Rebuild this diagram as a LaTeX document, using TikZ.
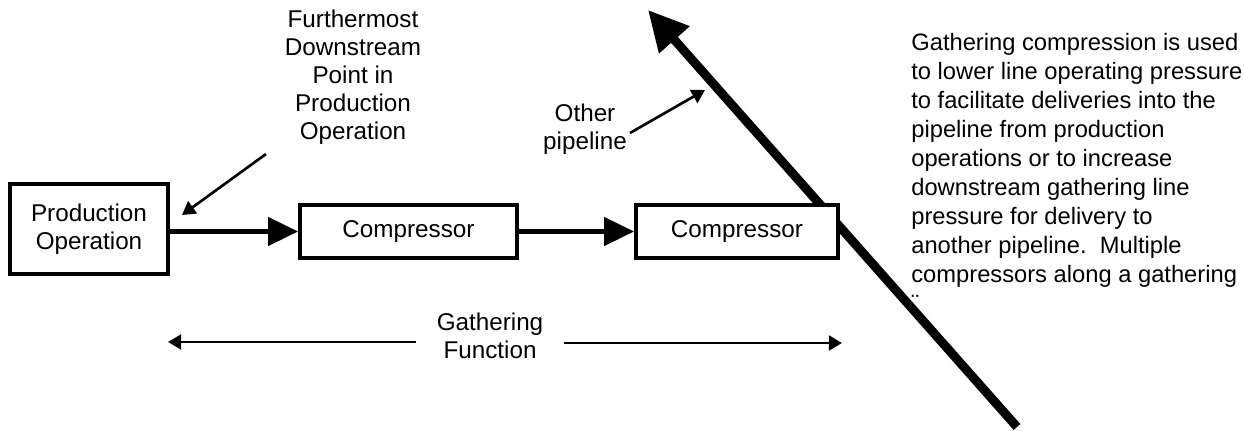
\documentclass[tikz,border=0pt]{standalone}
\usepackage{fontspec}
\setmainfont{Liberation Sans}
\usetikzlibrary{arrows.meta}

\begin{document}
\begin{tikzpicture}[x=0.02cm, y=-0.02cm,
		box/.style={draw, line width=2.3pt, fill=white, inner sep=0pt, align=center, font=\fontsize{13.8}{16}\selectfont},
		txt/.style={inner sep=0pt, align=center, font=\fontsize{13.8}{16}\selectfont},
		flow/.style={line width=2.3pt, -{Triangle[length=17pt, width=16pt]}},
		pointer/.style={line width=1.5pt, -{Triangle[length=7.5pt, width=8.5pt]}}]
		    \useasboundingbox (0,0) rectangle (1245,431);
		    
		    % other pipeline, behind the second compressor
		    \coordinate (PB) at (1017,427);
		    \coordinate (PT) at (648,10);
			\draw[line width=5.1pt, -{Triangle[length=22.7pt, width=22pt]}] (PB) -- (PT);
			
		    \node [box, minimum width=3.16cm, minimum height=1.8cm] (PO) at (89,229) {Production\\Operation};
		    \node [box, minimum width=4.34cm, minimum height=1.06cm] (CA) at (408.5,231.5) {Compressor};
		    \node [box, minimum width=4.04cm, minimum height=1.06cm] (CB) at (737,231.5) {Compressor};
		    
			\draw[flow] (PO.east |- CA) -- (CA.west);
			\draw[flow] (CA) -- (CB);
			
		    \node [txt] (FD) at (353,77) {Furthermost\\Downstream\\Point in\\Production\\Operation};
		    \coordinate (FS) at (266,154);
		    \coordinate (FE) at (182,215);
			\draw[pointer] (FS) -- (FE);
			
		    \node [txt] (OP) at (585,129) {Other\\pipeline};
		    \coordinate (OS) at (630,133);
		    \coordinate (OE) at (705,90);
			\draw[pointer] (OS) -- (OE);
			
		    \node [txt, inner xsep=0.4cm] (GF) at (490,336) {Gathering\\Function};
		    \coordinate (GL) at (168,342);
		    \coordinate (GR) at (842,343);
			\draw[pointer] (GF.west |- GL) -- (GL);
			\draw[pointer] (GF.east |- GR) -- (GR);
			
		    \node [txt, align=left, anchor=north west, font=\fontsize{13.5}{16.5}\selectfont] (GC) at (911,33) {Gathering compression is used\\to lower line operating pressure\\to facilitate deliveries into the\\pipeline from production\\operations or to increase\\downstream gathering line\\pressure for delivery to\\another pipeline.\ \ Multiple\\compressors along a gathering\\¨};
		\end{tikzpicture}
\end{document}
